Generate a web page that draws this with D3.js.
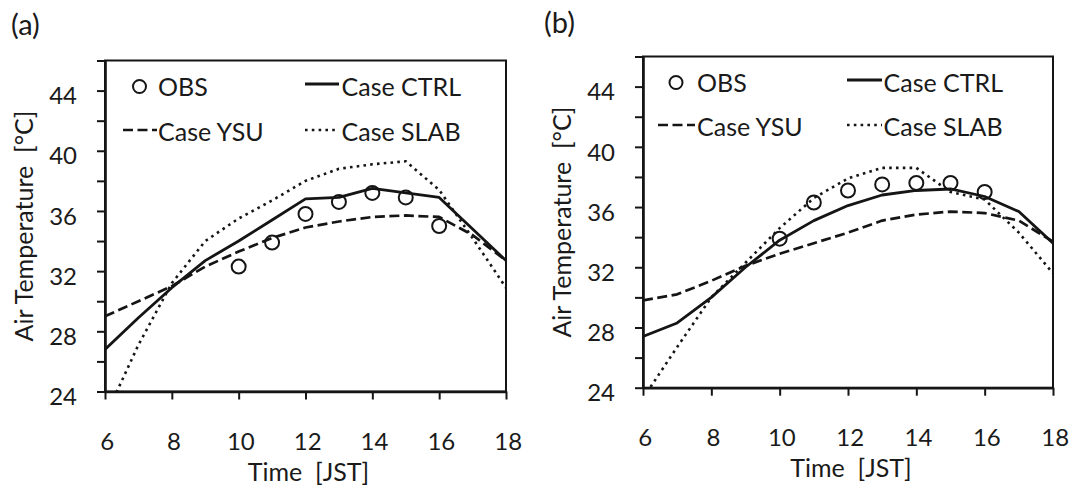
<!DOCTYPE html>
<html>
<head>
<meta charset="utf-8">
<script src="https://cdn.jsdelivr.net/npm/d3@7"></script>
<style>
  html, body { margin: 0; padding: 0; background: #fff; }
  svg { display: block; }
  text { font-family: Lato, "Open Sans", "DejaVu Sans", sans-serif; fill: #1a1a1a; white-space: pre; }
</style>
</head>
<body>
<svg id="chart" width="1072" height="502"></svg>
<script>
// ---------------- data ----------------
const hours = [6, 7, 8, 9, 10, 11, 12, 13, 14, 15, 16, 17, 18];
const obsHours = [10, 11, 12, 13, 14, 15, 16];
const xTicks = [6, 8, 10, 12, 14, 16, 18];
const yTicks = [24, 26, 28, 30, 32, 34, 36, 38, 40, 42, 44, 46];
const yLabelTicks = [24, 28, 32, 36, 40, 44];

// Panel (a)
const obsA  = [32.3, 33.9, 35.8, 36.6, 37.2, 36.9, 35.0];
const ctrlA = [26.8, 28.9, 30.9, 32.7, 34.0, 35.4, 36.8, 36.9, 37.5, 37.2, 36.9, 34.8, 32.7];
const ysuA  = [29.0, 30.0, 31.0, 32.3, 33.3, 34.2, 34.9, 35.3, 35.6, 35.7, 35.6, 34.4, 32.7];
const slabA = [22.3, 27.1, 31.2, 34.0, 35.5, 36.7, 38.0, 38.8, 39.1, 39.3, 37.4, 34.2, 30.9];

// Panel (b)
const obsB  = [33.9, 36.3, 37.1, 37.5, 37.6, 37.6, 37.0];
const ctrlB = [27.4, 28.3, 30.0, 32.0, 33.8, 35.1, 36.1, 36.8, 37.1, 37.2, 36.7, 35.7, 33.6];
const ysuB  = [29.8, 30.2, 31.1, 32.1, 32.9, 33.6, 34.3, 35.1, 35.5, 35.7, 35.6, 35.1, 33.7];
const slabB = [23.3, 26.7, 30.0, 32.3, 34.6, 36.6, 37.9, 38.6, 38.6, 37.0, 36.5, 34.3, 31.6];

const legendLabels = { obs: "OBS", ctrl: "Case CTRL", ysu: "Case YSU", slab: "Case SLAB" };
const xTitle = "Time  [JST]";
const yTitle = "Air Temperature  [°C]";

// ---------------- drawing ----------------
const svg = d3.select("#chart");
const INK = "#151515";

const styles = {
  ctrl: { dash: null, width: 2.8 },
  ysu:  { dash: "10,4.5", width: 2.7 },
  slab: { dash: "2.6,4.2", width: 2.6 }
};

function drawPanel(p) {
  const x = d3.scaleLinear().domain([6, 18]).range([p.left, p.right]);
  const y = d3.scaleLinear().domain([24, 46]).range([p.bottom, p.top]);
  const g = svg.append("g");

  const clipId = "clip-" + p.id;
  svg.append("defs").append("clipPath").attr("id", clipId)
    .append("rect").attr("x", p.left).attr("y", p.top)
    .attr("width", p.right - p.left).attr("height", p.bottom - p.top);

  // frame
  g.append("rect").attr("x", p.left).attr("y", p.top)
    .attr("width", p.right - p.left).attr("height", p.bottom - p.top)
    .attr("fill", "none").attr("stroke", INK).attr("stroke-width", 2);

  // y axis
  const yAxis = d3.axisLeft(y).tickValues(yTicks).tickSize(8).tickSizeOuter(0)
    .tickPadding(20)
    .tickFormat(d => yLabelTicks.includes(d) ? d : "");
  const ya = g.append("g").attr("transform", `translate(${p.left},0)`).call(yAxis);
  ya.select(".domain").attr("stroke", INK).attr("stroke-width", 2.6);
  ya.selectAll(".tick line").attr("stroke", INK).attr("stroke-width", 2);
  ya.selectAll(".tick text").attr("font-size", 24).attr("dy", "0.55em")
    .style("font-family", "Lato, 'Open Sans', sans-serif").attr("fill", "#1a1a1a");

  // x axis
  const xAxis = d3.axisBottom(x).tickValues(xTicks).tickSize(8).tickSizeOuter(0)
    .tickPadding(33).tickFormat(d => d);
  const xa = g.append("g").attr("transform", `translate(0,${p.bottom})`).call(xAxis);
  xa.select(".domain").attr("stroke", INK).attr("stroke-width", 2.6);
  xa.selectAll(".tick line").attr("stroke", INK).attr("stroke-width", 2);
  xa.selectAll(".tick text").attr("font-size", 24).attr("dx", "0.07em")
    .style("font-family", "Lato, 'Open Sans', sans-serif").attr("fill", "#1a1a1a");

  // lines
  const line = d3.line().x((d, i) => x(hours[i])).y(d => y(d)).curve(d3.curveLinear);
  const lg = g.append("g").attr("clip-path", `url(#${clipId})`);
  [["ysu", p.ysu], ["slab", p.slab], ["ctrl", p.ctrl]].forEach(([k, vals]) => {
    lg.append("path").datum(vals).attr("d", line)
      .attr("fill", "none").attr("stroke", INK)
      .attr("stroke-width", styles[k].width)
      .attr("stroke-dasharray", styles[k].dash)
      .attr("stroke-linejoin", "round");
  });

  // obs circles
  lg.selectAll("circle.obs").data(p.obs).join("circle").attr("class", "obs")
    .attr("cx", (d, i) => x(obsHours[i])).attr("cy", d => y(d)).attr("r", 7)
    .attr("fill", "none").attr("stroke", INK).attr("stroke-width", 2);

  // legend
  const L = p.legend;
  g.append("circle").attr("cx", L.c1x).attr("cy", L.r1y - 9.5).attr("r", 6.5)
    .attr("fill", "none").attr("stroke", INK).attr("stroke-width", 2);
  g.append("text").attr("x", L.t1x).attr("y", L.r1y).attr("font-size", 25).text(legendLabels.obs);

  g.append("line").attr("x1", L.s2x0).attr("x2", L.s2x1).attr("y1", L.r1y - 12).attr("y2", L.r1y - 12)
    .attr("stroke", INK).attr("stroke-width", styles.ctrl.width);
  g.append("text").attr("x", L.t2x).attr("y", L.r1y).attr("font-size", 25).text(legendLabels.ctrl);

  g.append("line").attr("x1", L.s1x0).attr("x2", L.s1x1).attr("y1", L.r2y - 11).attr("y2", L.r2y - 11)
    .attr("stroke", INK).attr("stroke-width", styles.ysu.width).attr("stroke-dasharray", styles.ysu.dash);
  g.append("text").attr("x", L.t1x).attr("y", L.r2y).attr("font-size", 25).text(legendLabels.ysu);

  g.append("line").attr("x1", L.s2x0).attr("x2", L.s2x1).attr("y1", L.r2y - 11).attr("y2", L.r2y - 11)
    .attr("stroke", INK).attr("stroke-width", styles.slab.width).attr("stroke-dasharray", styles.slab.dash);
  g.append("text").attr("x", L.t2x).attr("y", L.r2y).attr("font-size", 25).text(legendLabels.slab);

  // titles
  g.append("text").attr("x", (p.left + p.right) / 2 + 3).attr("y", p.bottom + 89)
    .attr("text-anchor", "middle").attr("font-size", 25).text(xTitle);
  const cy = (p.top + p.bottom) / 2;
  g.append("text").attr("transform", `translate(${p.left - 72},${cy}) rotate(-90)`)
    .attr("text-anchor", "middle").attr("font-size", 25).text(yTitle);

  g.append("text").attr("x", p.tagX).attr("y", p.tagY).attr("font-size", 29).text(p.tag);
}

drawPanel({
  id: "a", tag: "(a)", tagX: 11, tagY: 35,
  left: 105, right: 506, top: 60.5, bottom: 391.5,
  obs: obsA, ctrl: ctrlA, ysu: ysuA, slab: slabA,
  legend: { c1x: 139.5, t1x: 158, r1y: 96, r2y: 141, s1x0: 123, s1x1: 157, s2x0: 305, s2x1: 339, t2x: 341.5 }
});

drawPanel({
  id: "b", tag: "(b)", tagX: 544, tagY: 33,
  left: 643, right: 1053, top: 56.5, bottom: 387.7,
  obs: obsB, ctrl: ctrlB, ysu: ysuB, slab: slabB,
  legend: { c1x: 676, t1x: 697, r1y: 92, r2y: 136, s1x0: 658, s1x1: 695, s2x0: 847, s2x1: 882, t2x: 883.5 }
});
</script>
</body>
</html>
